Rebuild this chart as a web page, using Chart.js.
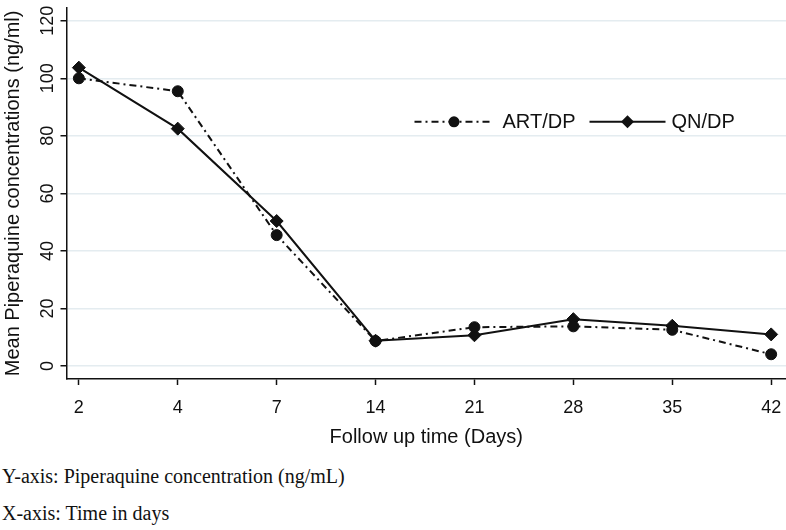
<!DOCTYPE html>
<html>
<head>
<meta charset="utf-8">
<script src="https://cdn.jsdelivr.net/npm/chart.js@4/dist/chart.umd.min.js"></script>
<style>
body { margin: 0; background: #fff; width: 786px; height: 530px; position: relative; overflow: hidden; }
#wrap { position: absolute; left: 0; top: 0; width: 786px; height: 452px; }
.note { position: absolute; left: 2px; margin: 0; font-family: 'Liberation Serif', 'Times New Roman', serif; font-size: 20px; line-height: 23px; color: #111; white-space: nowrap; }
</style>
</head>
<body>
<div id="wrap"><canvas id="chart"></canvas></div>
<p class="note" style="top:465px">Y-axis: Piperaquine concentration (ng/mL)</p>
<p class="note" style="top:502px">X-axis: Time in days</p>
<script>
// follow up days (categories, equally spaced)
const days = ['2', '4', '7', '14', '21', '28', '35', '42'];
// mean piperaquine concentrations (ng/ml)
const artDp = [100, 95.5, 45.5, 8.7, 13.5, 13.8, 12.6, 4.1];
const qnDp = [103.7, 82.5, 50.4, 8.8, 10.7, 16.3, 14, 11];
const yTicks = [0, 20, 40, 60, 80, 100, 120];

const ink = '#111';
const sans = "'Liberation Sans', Arial, sans-serif";

// legend drawn inside the plot like the original (line + marker + label)
const insideLegend = {
    id: 'insideLegend',
    afterDraw(chart) {
        const ctx = chart.ctx;
        const ca = chart.chartArea;
        const y = ca.top + 114;
        const items = [
            { ds: chart.data.datasets[0], x0: ca.left + 348, x1: ca.left + 427, tx: ca.left + 436 },
            { ds: chart.data.datasets[1], x0: ca.left + 523, x1: ca.left + 599, tx: ca.left + 605 }
        ];
        ctx.save();
        items.forEach(it => {
            const ds = it.ds;
            ctx.strokeStyle = ink;
            ctx.lineWidth = 2;
            ctx.setLineDash(ds.borderDash || []);
            ctx.beginPath();
            ctx.moveTo(it.x0, y);
            ctx.lineTo(it.x1, y);
            ctx.stroke();
            ctx.setLineDash([]);
            const mx = (it.x0 + it.x1) / 2;
            ctx.fillStyle = ink;
            ctx.beginPath();
            if (ds.pointStyle === 'rectRot') {
                const r = ds.pointRadius;
                ctx.moveTo(mx - r, y);
                ctx.lineTo(mx, y - r);
                ctx.lineTo(mx + r, y);
                ctx.lineTo(mx, y + r);
                ctx.closePath();
            } else {
                ctx.arc(mx, y, ds.pointRadius, 0, Math.PI * 2);
            }
            ctx.fill();
            ctx.font = '20px ' + sans;
            ctx.textBaseline = 'middle';
            ctx.textAlign = 'left';
            ctx.fillText(ds.label, it.tx, y + 1);
        });
        ctx.restore();
    }
};

const toPoints = arr => arr.map((v, i) => ({ x: i, y: v }));

new Chart(document.getElementById('chart'), {
    type: 'line',
    data: {
        datasets: [{
            label: 'ART/DP',
            data: toPoints(artDp),
            borderColor: ink,
            borderWidth: 2,
            borderDash: [7, 4, 2, 4],
            pointStyle: 'circle',
            pointRadius: 5.5,
            pointBackgroundColor: ink,
            pointBorderColor: ink,
            pointBorderWidth: 1,
            tension: 0
        }, {
            label: 'QN/DP',
            data: toPoints(qnDp),
            borderColor: ink,
            borderWidth: 2,
            pointStyle: 'rectRot',
            pointRadius: 6.5,
            pointBackgroundColor: ink,
            pointBorderColor: ink,
            pointBorderWidth: 1,
            tension: 0
        }]
    },
    options: {
        responsive: true,
        maintainAspectRatio: false,
        animation: false,
        devicePixelRatio: 1,
        layout: { autoPadding: false, padding: { top: 4, right: 0, left: 0, bottom: 0 } },
        plugins: {
            legend: { display: false },
            tooltip: { enabled: false }
        },
        scales: {
            x: {
                type: 'linear',
                min: -0.125,
                max: 7.15,
                afterBuildTicks: s => { s.ticks = days.map((d, i) => ({ value: i })); },
                afterFit: s => {
                    s.height = 73;
                    s.paddingLeft = 0;
                    s.paddingRight = 0;
                },
                ticks: {
                    callback: v => days[v],
                    color: ink,
                    font: { family: sans, size: 18 },
                    padding: 12,
                    maxRotation: 0
                },
                grid: { drawOnChartArea: false, tickColor: ink, tickLength: 6, tickWidth: 1.5 },
                border: { color: ink, width: 1.5 },
                title: {
                    display: true,
                    text: 'Follow up time (Days)',
                    color: ink,
                    font: { family: sans, size: 20 },
                    padding: { top: 0, bottom: 3 }
                }
            },
            y: {
                min: -4.5,
                max: 124.5,
                afterBuildTicks: s => { s.ticks = yTicks.map(v => ({ value: v })); },
                afterFit: s => { s.width = 66.5; },
                ticks: {
                    color: ink,
                    font: { family: sans, size: 18 },
                    minRotation: 90,
                    maxRotation: 90,
                    crossAlign: 'center',
                    padding: -3
                },
                grid: { color: '#e4ecf0', lineWidth: 1.5, tickColor: ink, tickLength: 6, tickWidth: 1.5 },
                border: { color: ink, width: 1.5 },
                title: {
                    display: true,
                    text: 'Mean Piperaquine concentrations (ng/ml)',
                    color: ink,
                    font: { family: sans, size: 20 },
                    padding: { top: 1, bottom: 0 }
                }
            }
        }
    },
    plugins: [insideLegend]
});
</script>
</body>
</html>
